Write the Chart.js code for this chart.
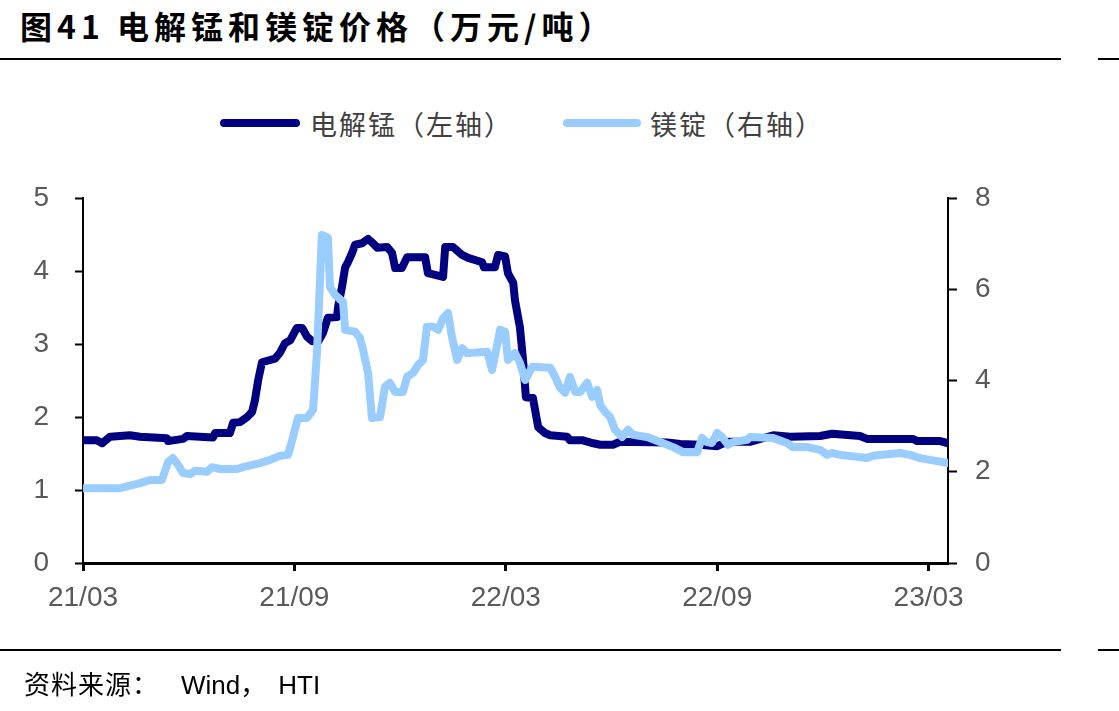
<!DOCTYPE html>
<html>
<head>
<meta charset="utf-8">
<script src="https://cdn.jsdelivr.net/npm/chart.js@4/dist/chart.umd.min.js"></script>
<style>
body{margin:0;background:#fff;width:1119px;height:711px;overflow:hidden;position:relative;font-family:"Liberation Sans","Noto Sans CJK SC",sans-serif;}
#c{position:absolute;left:0;top:0;}
.title{position:absolute;left:20px;top:2px;font-size:32px;font-weight:bold;color:#000;font-family:"Noto Sans CJK SC",sans-serif;white-space:nowrap;letter-spacing:5px;}
.rule{position:absolute;height:2px;background:#000;}
.lg{position:absolute;height:8px;border-radius:4px;}
.lgt{position:absolute;font-size:27px;color:#404040;font-family:"Noto Sans CJK SC",sans-serif;white-space:nowrap;letter-spacing:2px;}
.src{position:absolute;left:24px;top:664px;font-size:26px;color:#000;white-space:nowrap;}
</style>
</head>
<body>
<div class="title">图41 电解锰和镁锭价格（万元/吨）</div>
<div class="rule" style="left:0;top:58px;width:1061px"></div>
<div class="rule" style="left:1098px;top:58px;width:21px"></div>
<div class="lg" style="left:220px;top:119px;width:80px;background:#000080"></div>
<div class="lgt" style="left:310px;top:104px">电解锰（左轴）</div>
<div class="lg" style="left:563px;top:119px;width:78px;background:#99ccff"></div>
<div class="lgt" style="left:650px;top:104px">镁锭（右轴）</div>
<canvas id="c" width="1119" height="711"></canvas>
<div class="rule" style="left:0;top:649px;width:1061px"></div>
<div class="rule" style="left:1098px;top:649px;width:21px"></div>
<div class="src"><span style="letter-spacing:1px">资料来源：</span><span style="font-family:'Liberation Sans';margin-left:22px">Wind</span>，<span style="font-family:'Liberation Sans';margin-left:12px">HTI</span></div>
<script>
// months after 2021-03
var tickPos = [0, 6, 12, 18, 24];
var tickLabels = ['21/03', '21/09', '22/03', '22/09', '23/03'];

// 电解锰 (万元/吨, left axis)
var mnMonths = [0.00,0.40,0.54,0.77,1.33,1.62,2.38,2.41,2.84,2.95,3.69,3.75,4.17,4.26,4.46,4.66,4.80,4.88,4.97,5.08,
  5.45,5.59,5.73,5.88,6.07,6.22,6.36,6.50,6.67,6.81,6.95,7.21,7.24,7.35,7.44,7.52,7.64,7.72,7.92,8.09,
  8.23,8.35,8.63,8.77,8.86,9.05,9.20,9.71,9.79,10.22,10.28,10.50,10.76,10.93,11.33,11.38,11.69,11.78,11.98,12.06,
  12.21,12.26,12.40,12.49,12.57,12.77,12.92,13.11,13.26,13.74,13.82,14.19,14.48,14.68,15.04,15.24,16.58,16.95,17.51,18.00,
  18.28,18.93,19.59,20.07,20.92,21.26,22.05,22.25,23.56,23.67,24.33,24.55];
var mnPrice = [1.68,1.68,1.64,1.73,1.75,1.73,1.71,1.67,1.70,1.74,1.72,1.78,1.78,1.92,1.93,2.00,2.07,2.23,2.50,2.75,
  2.80,2.88,3.01,3.05,3.22,3.22,3.10,3.04,3.03,3.15,3.36,3.37,3.51,3.78,4.05,4.12,4.25,4.36,4.38,4.44,
  4.38,4.32,4.33,4.25,4.04,4.04,4.19,4.19,3.97,3.92,4.33,4.33,4.22,4.18,4.12,4.05,4.05,4.22,4.20,3.97,
  3.84,3.60,3.23,2.78,2.27,2.26,1.86,1.78,1.75,1.73,1.68,1.68,1.64,1.62,1.62,1.66,1.65,1.63,1.62,1.60,
  1.66,1.66,1.75,1.73,1.74,1.77,1.74,1.70,1.70,1.67,1.67,1.64];

// 镁锭 (万元/吨, right axis)
var mgMonths = [0.00,1.05,1.62,1.90,2.24,2.41,2.55,2.70,2.84,3.04,3.18,3.52,3.66,3.89,4.37,4.54,5.02,5.31,5.59,5.82,
  5.96,6.10,6.36,6.53,6.64,6.78,6.95,7.01,7.15,7.38,7.44,7.72,7.86,7.95,8.09,8.20,8.43,8.57,8.71,8.86,
  9.08,9.20,9.37,9.51,9.65,9.76,9.93,10.08,10.22,10.36,10.47,10.62,10.76,10.90,11.47,11.61,11.84,11.98,12.06,12.26,
  12.40,12.55,12.75,13.26,13.40,13.54,13.68,13.82,13.97,14.11,14.31,14.45,14.59,14.68,14.82,14.96,15.10,15.30,15.47,15.61,
  16.01,16.38,16.75,17.03,17.43,17.57,17.71,17.85,18.00,18.14,18.31,18.45,18.85,18.93,19.59,19.98,20.15,20.55,20.92,21.12,
  21.26,21.49,22.25,22.42,23.19,23.47,23.76,24.04,24.55];
var mgPrice = [1.64,1.64,1.75,1.82,1.82,2.21,2.30,2.15,1.97,1.95,2.02,2.00,2.10,2.06,2.06,2.10,2.19,2.26,2.35,2.37,
  2.76,3.18,3.18,3.36,4.60,7.19,7.13,6.05,5.88,5.72,5.11,5.07,4.93,4.67,4.17,3.18,3.20,3.86,3.95,3.75,
  3.75,4.08,4.17,4.34,4.45,5.18,5.18,5.11,5.37,5.48,4.96,4.45,4.71,4.60,4.63,4.23,5.11,5.07,4.45,4.60,
  4.39,4.01,4.30,4.28,4.08,3.84,3.73,4.08,3.75,3.75,3.95,3.64,3.79,3.46,3.31,3.20,2.92,2.76,2.92,2.81,
  2.76,2.65,2.54,2.43,2.43,2.74,2.65,2.63,2.85,2.76,2.59,2.65,2.70,2.76,2.74,2.63,2.54,2.54,2.48,2.37,
  2.41,2.37,2.30,2.35,2.41,2.37,2.30,2.26,2.19];

function pts(xs, ys){
	var out = [];
	for (var i = 0; i < xs.length; i++) out.push({x: xs[i], y: ys[i]});
	return out;
}

var tickFont = {family: "'Liberation Sans', Arial, sans-serif", size: 28};
var tickColor = '#595959';

new Chart(document.getElementById('c').getContext('2d'), {
	type: 'line',
	data: {
		datasets: [{
			label: '电解锰（左轴）',
			data: pts(mnMonths, mnPrice),
			borderColor: '#000080',
			borderWidth: 8,
			yAxisID: 'y',
			order: 1
		}, {
			label: '镁锭（右轴）',
			data: pts(mgMonths, mgPrice),
			borderColor: '#99ccff',
			borderWidth: 8,
			yAxisID: 'y1',
			order: 0
		}]
	},
	options: {
		responsive: false,
		animation: false,
		layout: {padding: {top: 198, left: 0, right: 0, bottom: 0}},
		elements: {
			point: {radius: 0},
			line: {tension: 0, borderJoinStyle: 'round', borderCapStyle: 'round', fill: false}
		},
		plugins: {legend: {display: false}, tooltip: {enabled: false}},
		scales: {
			x: {
				type: 'linear',
				min: 0,
				max: 24.55,
				afterFit: function(s){ s.height = 148; },
				afterBuildTicks: function(s){ s.ticks = tickPos.map(function(v){ return {value: v}; }); },
				grid: {drawOnChartArea: false, drawTicks: true, tickLength: 8, tickWidth: 3, tickColor: '#000'},
				border: {display: true, color: '#000', width: 3},
				ticks: {
					padding: 10, font: tickFont, color: tickColor, maxRotation: 0, autoSkip: false,
					callback: function(v){ var i = tickPos.indexOf(v); return i < 0 ? '' : tickLabels[i]; }
				}
			},
			y: {
				position: 'left',
				min: 0, max: 5,
				afterFit: function(s){ s.width = 83; },
				grid: {drawOnChartArea: false, drawTicks: true, tickLength: 8, tickWidth: 2, tickColor: '#000'},
				border: {display: true, color: '#000', width: 2},
				ticks: {stepSize: 1, padding: 26, font: tickFont, color: tickColor}
			},
			y1: {
				position: 'right',
				min: 0, max: 8,
				afterFit: function(s){ s.width = 171; },
				grid: {drawOnChartArea: false, drawTicks: true, tickLength: 9, tickWidth: 2, tickColor: '#000'},
				border: {display: true, color: '#000', width: 2},
				ticks: {stepSize: 2, padding: 18, font: tickFont, color: tickColor}
			}
		}
	}
});
</script>
</body>
</html>
